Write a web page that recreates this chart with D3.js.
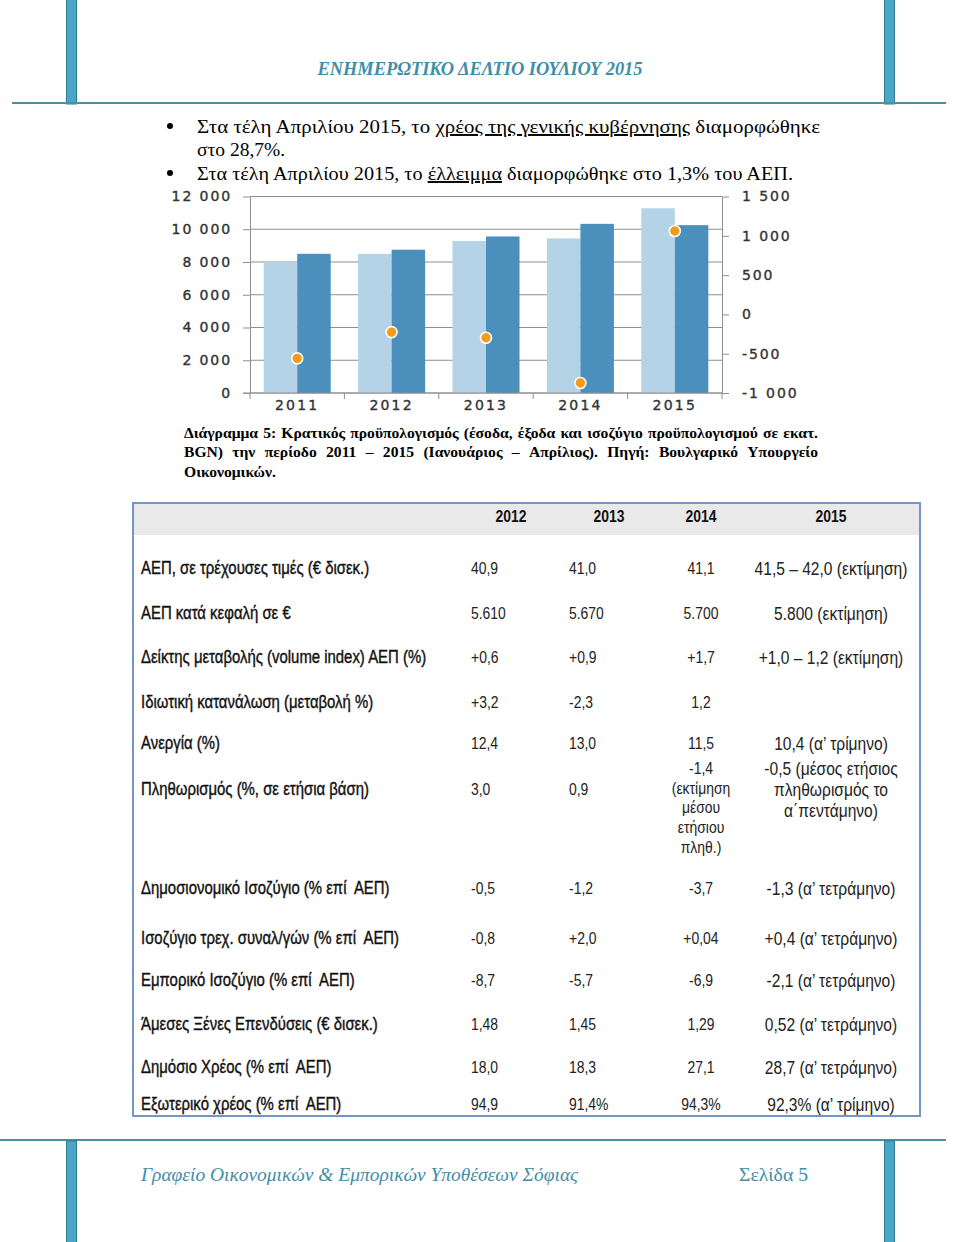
<!DOCTYPE html>
<html>
<head>
<meta charset="utf-8">
<script src="https://cdn.jsdelivr.net/npm/d3@7/dist/d3.min.js"></script>
<style>
html,body{margin:0;padding:0;background:#fff;}
svg{display:block;}
text{white-space:pre;}
</style>
</head>
<body>
<div id="page"></div>
<script>
// ---------------- DATA ----------------
const years = ['2011', '2012', '2013', '2014', '2015'];
const revenue = [8000, 8500, 9280, 9440, 11280];
const expenditure = [8500, 8750, 9560, 10330, 10250];
const balance = [-560, -225, -297, -872, 1061];
const leftTicks = [0, 2000, 4000, 6000, 8000, 10000, 12000];
const rightTicks = [-1000, -500, 0, 500, 1000, 1500];

const headerTitle = 'ΕΝΗΜΕΡΩΤΙΚΟ ΔΕΛΤΙΟ ΙΟΥΛΙΟΥ 2015';
const bullet1a = 'Στα τέλη Απριλίου 2015, το ';
const bullet1u = 'χρέος της γενικής κυβέρνησης';
const bullet1b = ' διαμορφώθηκε';
const bullet1c = 'στο 28,7%.';
const bullet2a = 'Στα τέλη Απριλίου 2015, το ';
const bullet2u = 'έλλειμμα';
const bullet2b = ' διαμορφώθηκε στο 1,3% του ΑΕΠ.';
const captionLines = [
  'Διάγραμμα 5: Κρατικός προϋπολογισμός (έσοδα, έξοδα και ισοζύγιο προϋπολογισμού σε εκατ.',
  'BGN) την περίοδο 2011 – 2015 (Ιανουάριος – Απρίλιος). Πηγή: Βουλγαρικό Υπουργείο',
  'Οικονομικών.'
];

const tableYears = ['2012', '2013', '2014', '2015'];
const rowLabels = [
  'ΑΕΠ, σε τρέχουσες τιμές (€ δισεκ.)',
  'ΑΕΠ κατά κεφαλή σε €',
  'Δείκτης μεταβολής (volume index) ΑΕΠ (%)',
  'Ιδιωτική κατανάλωση (μεταβολή %)',
  'Ανεργία (%)',
  'Πληθωρισμός (%, σε ετήσια βάση)',
  'Δημοσιονομικό Ισοζύγιο (% επί  ΑΕΠ)',
  'Ισοζύγιο τρεχ. συναλ/γών (% επί  ΑΕΠ)',
  'Εμπορικό Ισοζύγιο (% επί  ΑΕΠ)',
  'Άμεσες Ξένες Επενδύσεις (€ δισεκ.)',
  'Δημόσιο Χρέος (% επί  ΑΕΠ)',
  'Εξωτερικό χρέος (% επί  ΑΕΠ)'
];
const col2012 = ['40,9', '5.610', '+0,6', '+3,2', '12,4', '3,0', '-0,5', '-0,8', '-8,7', '1,48', '18,0', '94,9'];
const col2013 = ['41,0', '5.670', '+0,9', '-2,3', '13,0', '0,9', '-1,2', '+2,0', '-5,7', '1,45', '18,3', '91,4%'];
const col2014 = ['41,1', '5.700', '+1,7', '1,2', '11,5', '-1,4\n(εκτίμηση\nμέσου\nετήσιου\nπληθ.)', '-3,7', '+0,04', '-6,9', '1,29', '27,1', '94,3%'];
const col2015 = ['41,5 – 42,0 (εκτίμηση)', '5.800 (εκτίμηση)', '+1,0 – 1,2 (εκτίμηση)', '',
  '10,4 (α’ τρίμηνο)', '-0,5 (μέσος ετήσιος\nπληθωρισμός το\nα΄πεντάμηνο)', '-1,3 (α’ τετράμηνο)',
  '+0,4 (α’ τετράμηνο)', '-2,1 (α’ τετράμηνο)', '0,52 (α’ τετράμηνο)', '28,7 (α’ τετράμηνο)', '92,3% (α’ τρίμηνο)'];

const footerLeft = 'Γραφείο Οικονομικών & Εμπορικών Υποθέσεων Σόφιας';
const footerRight = 'Σελίδα 5';

// ---------------- LAYOUT ----------------
const W = 960, H = 1242;
const TEAL = '#3f8ea7';
const svg = d3.select('#page').append('svg').attr('width', W).attr('height', H);
svg.append('rect').attr('width', W).attr('height', H).attr('fill', '#fff');

// header / footer decorations
function vbar(x, y0, y1) {
  svg.append('rect').attr('x', x).attr('y', y0).attr('width', 10).attr('height', y1 - y0)
    .attr('fill', '#4aa6c6').attr('stroke', '#2d7b96').attr('stroke-width', 1);
}
vbar(66.5, -2, 104); vbar(884.5, -2, 104);
svg.append('line').attr('x1', 12).attr('x2', 946).attr('y1', 103).attr('y2', 103)
  .attr('stroke', '#4f8e9b').attr('stroke-width', 2);
svg.append('text').attr('x', 480).attr('y', 75).attr('text-anchor', 'middle')
  .attr('font-family', 'Liberation Serif').attr('font-style', 'italic').attr('font-weight', 'bold')
  .attr('font-size', 19).attr('fill', TEAL).attr('textLength', 325).attr('lengthAdjust', 'spacingAndGlyphs')
  .text(headerTitle);

svg.append('line').attr('x1', 0).attr('x2', 946).attr('y1', 1140).attr('y2', 1140)
  .attr('stroke', '#4f8e9b').attr('stroke-width', 2);
vbar(66.5, 1141, 1244); vbar(884.5, 1141, 1244);
svg.append('text').attr('x', 141).attr('y', 1181)
  .attr('font-family', 'Liberation Serif').attr('font-style', 'italic')
  .attr('font-size', 19).attr('fill', TEAL).attr('textLength', 437).attr('lengthAdjust', 'spacingAndGlyphs')
  .text(footerLeft);
svg.append('text').attr('x', 739).attr('y', 1181)
  .attr('font-family', 'Liberation Serif')
  .attr('font-size', 19).attr('fill', TEAL).attr('textLength', 69).attr('lengthAdjust', 'spacingAndGlyphs')
  .text(footerRight);

// bullets
function bulletLine(y, a, u, b, len) {
  const t = svg.append('text').attr('x', 197).attr('y', y)
    .attr('font-family', 'Liberation Serif').attr('font-size', 19.5).attr('fill', '#000');
  if (len) t.attr('textLength', len).attr('lengthAdjust', 'spacingAndGlyphs');
  t.append('tspan').text(a);
  if (u) t.append('tspan').style('text-decoration', 'underline').text(u);
  if (b) t.append('tspan').text(b);
}
[132, 179].forEach(y => svg.append('circle').attr('cx', 170).attr('cy', y - 6).attr('r', 3).attr('fill', '#000'));
bulletLine(133, bullet1a, bullet1u, bullet1b, 623);
bulletLine(156, bullet1c, null, null, null);
bulletLine(180, bullet2a, bullet2u, bullet2b, 596);

// ---------------- CHART ----------------
const plotL = 250, plotR = 722, plotT = 196.5, plotB = 393;
const yL = d3.scaleLinear().domain([0, 12000]).range([plotB, plotT]);
const yR = d3.scaleLinear().domain([-1000, 1500]).range([plotB, plotT]);
const x0 = d3.scaleBand().domain(years).range([plotL, plotR]).paddingInner(0.29).paddingOuter(0.145);
const x1 = d3.scaleBand().domain(['rev', 'exp']).range([0, x0.bandwidth()]);
const loc = d3.formatLocale({decimal: ',', thousands: ' ', grouping: [3], currency: ['', ''], minus: '-'});
const fmt = loc.format(',d');
const chart = svg.append('g');
const GRID = '#8f8f8f';

// gridlines
chart.append('g').selectAll('line').data(leftTicks).join('line')
  .attr('x1', plotL).attr('x2', plotR).attr('y1', d => yL(d)).attr('y2', d => yL(d))
  .attr('stroke', GRID).attr('stroke-width', 1);

// bars
const groups = chart.append('g').selectAll('g').data(years).join('g')
  .attr('transform', d => `translate(${x0(d)},0)`);
groups.append('rect').attr('x', x1('rev')).attr('width', x1.bandwidth())
  .attr('y', (d, i) => yL(revenue[i])).attr('height', (d, i) => plotB - yL(revenue[i]))
  .attr('fill', '#b5d3e7');
groups.append('rect').attr('x', x1('exp')).attr('width', x1.bandwidth())
  .attr('y', (d, i) => yL(expenditure[i])).attr('height', (d, i) => plotB - yL(expenditure[i]))
  .attr('fill', '#4b90bd');

// axes
function styleAxis(g) {
  g.selectAll('path,line').attr('stroke', GRID).attr('stroke-width', 1);
  g.selectAll('text').attr('font-family', 'DejaVu Sans').attr('font-size', 14)
    .attr('fill', '#333').attr('stroke', '#333').attr('stroke-width', 0.35)
    .attr('letter-spacing', 1.9);
}
const axL = chart.append('g').attr('transform', `translate(${plotL},0)`)
  .call(d3.axisLeft(yL).tickValues(leftTicks).tickFormat(fmt).tickSize(7).tickSizeOuter(0).tickPadding(11));
styleAxis(axL);
const axR = chart.append('g').attr('transform', `translate(${plotR},0)`)
  .call(d3.axisRight(yR).tickValues(rightTicks).tickFormat(fmt).tickSize(7).tickSizeOuter(0).tickPadding(13));
styleAxis(axR);
const axB = chart.append('g').attr('transform', `translate(0,${plotB})`)
  .call(d3.axisBottom(x0).tickSize(0).tickPadding(7));
styleAxis(axB);
axB.selectAll('text').attr('letter-spacing', 2.2);
axB.select('.domain').remove();
chart.append('line').attr('x1', plotL - 7).attr('x2', plotR).attr('y1', plotB).attr('y2', plotB)
  .attr('stroke', GRID);
// category boundary ticks
const bounds = d3.range(years.length + 1).map(i => plotL + i * x0.step());
chart.append('g').selectAll('line').data(bounds).join('line')
  .attr('x1', d => d).attr('x2', d => d).attr('y1', plotB).attr('y2', plotB + 6)
  .attr('stroke', GRID);

// balance dots
chart.append('g').selectAll('circle').data(years).join('circle')
  .attr('cx', d => x0(d) + x0.bandwidth() / 2).attr('cy', (d, i) => yR(balance[i]))
  .attr('r', 5.5).attr('fill', '#f39a1e').attr('stroke', '#fff').attr('stroke-width', 1.6);

// ---------------- CAPTION (justified) ----------------
const capStyle = t => t.attr('font-family', 'Liberation Serif').attr('font-weight', 'bold')
  .attr('font-size', 15.6).attr('fill', '#000');
function measure(str, styleFn) {
  const t = svg.append('text').call(styleFn).text(str);
  const w = t.node().getComputedTextLength(); t.remove(); return w;
}
function justify(str, x0p, x1p, y, styleFn) {
  const words = str.split(' ');
  const ws = words.map(w => measure(w, styleFn));
  const gap = (x1p - x0p - d3.sum(ws)) / (words.length - 1);
  let x = x0p;
  words.forEach((w, i) => {
    svg.append('text').call(styleFn).attr('x', x).attr('y', y).text(w);
    x += ws[i] + gap;
  });
}
justify(captionLines[0], 184, 818, 438, capStyle);
justify(captionLines[1], 184, 818, 457, capStyle);
svg.append('text').call(capStyle).attr('x', 184).attr('y', 477).text(captionLines[2]);

// ---------------- TABLE ----------------
const tbl = svg.append('g');
tbl.append('rect').attr('x', 134).attr('y', 504).attr('width', 785).attr('height', 31).attr('fill', '#e9e9e9');
tbl.append('rect').attr('x', 133).attr('y', 503).attr('width', 787).attr('height', 613)
  .attr('fill', 'none').attr('stroke', '#7395c8').attr('stroke-width', 2);

const SX = 0.82;
function ntext(x, yc, str, fs, anchor, weight, fill, sw) {
  const t = tbl.append('text').attr('transform', `translate(${x},${yc + fs * 0.35}) scale(${SX},1)`)
    .attr('text-anchor', anchor).attr('font-family', 'Liberation Sans')
    .attr('font-size', fs).attr('font-weight', weight || 'normal').attr('fill', fill || '#111')
    .text(str);
  if (sw) t.attr('stroke', fill || '#111').attr('stroke-width', sw);
}
const headX = [511, 609, 701, 831];
tableYears.forEach((y, i) => ntext(headX[i], 516, y, 17, 'middle', 'bold', '#111'));

const rowY = [568, 613, 657, 702, 743, 789, 888, 938, 980, 1024, 1067, 1104];
rowLabels.forEach((l, i) => ntext(141, rowY[i], l, 18.2, 'start', 'normal', '#111', 0.4));
function cell(x, i, str, fs, anchor, lh) {
  const lines = str.split('\n');
  if (lines.length === 1) { ntext(x, rowY[i], str, fs, anchor, 'normal', '#222'); return; }
  lines.forEach((s, k) => ntext(x, rowY[i] - 21 + k * lh, s, fs, anchor, 'normal', '#222'));
}
col2012.forEach((v, i) => cell(471, i, v, 17, 'start', 20));
col2013.forEach((v, i) => cell(569, i, v, 17, 'start', 20));
col2014.forEach((v, i) => cell(701, i, v, 17, 'middle', 19.7));
col2015.forEach((v, i) => { if (v) cell(831, i, v, 19, 'middle', 21); });
</script>
</body>
</html>
